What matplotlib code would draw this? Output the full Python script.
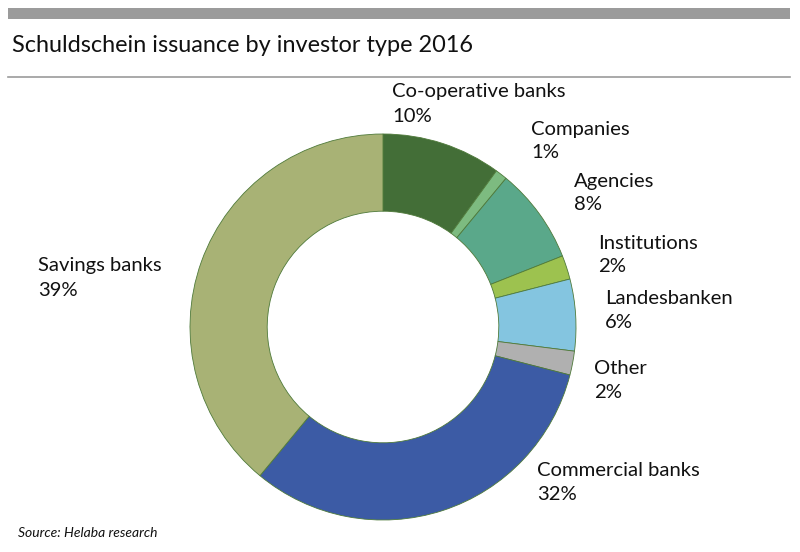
import matplotlib
matplotlib.use("Agg")
import matplotlib.pyplot as plt
from matplotlib.patches import Rectangle
from matplotlib.lines import Line2D

categories = ["Co-operative banks", "Companies", "Agencies", "Institutions",
              "Landesbanken", "Other", "Commercial banks", "Savings banks"]
values = [10, 1, 8, 2, 6, 2, 32, 39]
colors = ["#436e37", "#7dbb80", "#5aa88a", "#9dc24f",
          "#84c5e0", "#b0b0b0", "#3c5ba5", "#a8b275"]

# label anchor positions in pixels (left x, centre y of first line)
label_px = [(392, 92), (531, 129), (574, 181), (598, 243),
            (605, 299), (594, 368), (537, 470), (38, 266)]

W, H = 800, 552
fig = plt.figure(figsize=(W/100, H/100), dpi=100)
plt.rcParams['font.family'] = ['Lato', 'DejaVu Sans']

# top grey bar
fig.patches.append(Rectangle((8/W, 1-19/H), 782/W, 11/H, transform=fig.transFigure,
                             facecolor="#9b9b9b", edgecolor="none"))
fig.text(12/W, 1-46/H, "Schuldschein issuance by investor type 2016",
         fontsize=16.9, color="#111111", va="center", ha="left")
fig.lines.append(Line2D([8/W, 790/W], [1-77/H, 1-77/H], transform=fig.transFigure,
                        color="#9b9b9b", lw=1.2))

cx, cy, R = 383, 327, 193
half = 200
ax = fig.add_axes([(cx-half)/W, (H-cy-half)/H, 2*half/W, 2*half/H])
ax.pie(values, colors=colors, startangle=90, counterclock=False, radius=1,
       wedgeprops=dict(width=0.4, edgecolor="#4f7a3a", linewidth=0.6))
lim = half / R
ax.set_xlim(-lim, lim)
ax.set_ylim(-lim, lim)
ax.set_aspect("equal")
ax.axis("off")

for cat, val, (px, py) in zip(categories, values, label_px):
    fig.text(px/W, 1-py/H, cat, fontsize=14.6, color="#111111",
             va="center", ha="left")
    fig.text(px/W, 1-(py+24)/H, f"{val}%", fontsize=14.6, color="#111111",
             va="center", ha="left")

fig.text(18/W, 1-533/H, "Source: Helaba research", fontsize=10, style="italic",
         color="#111111", va="center", ha="left")

fig.savefig("out.png", dpi=100)
